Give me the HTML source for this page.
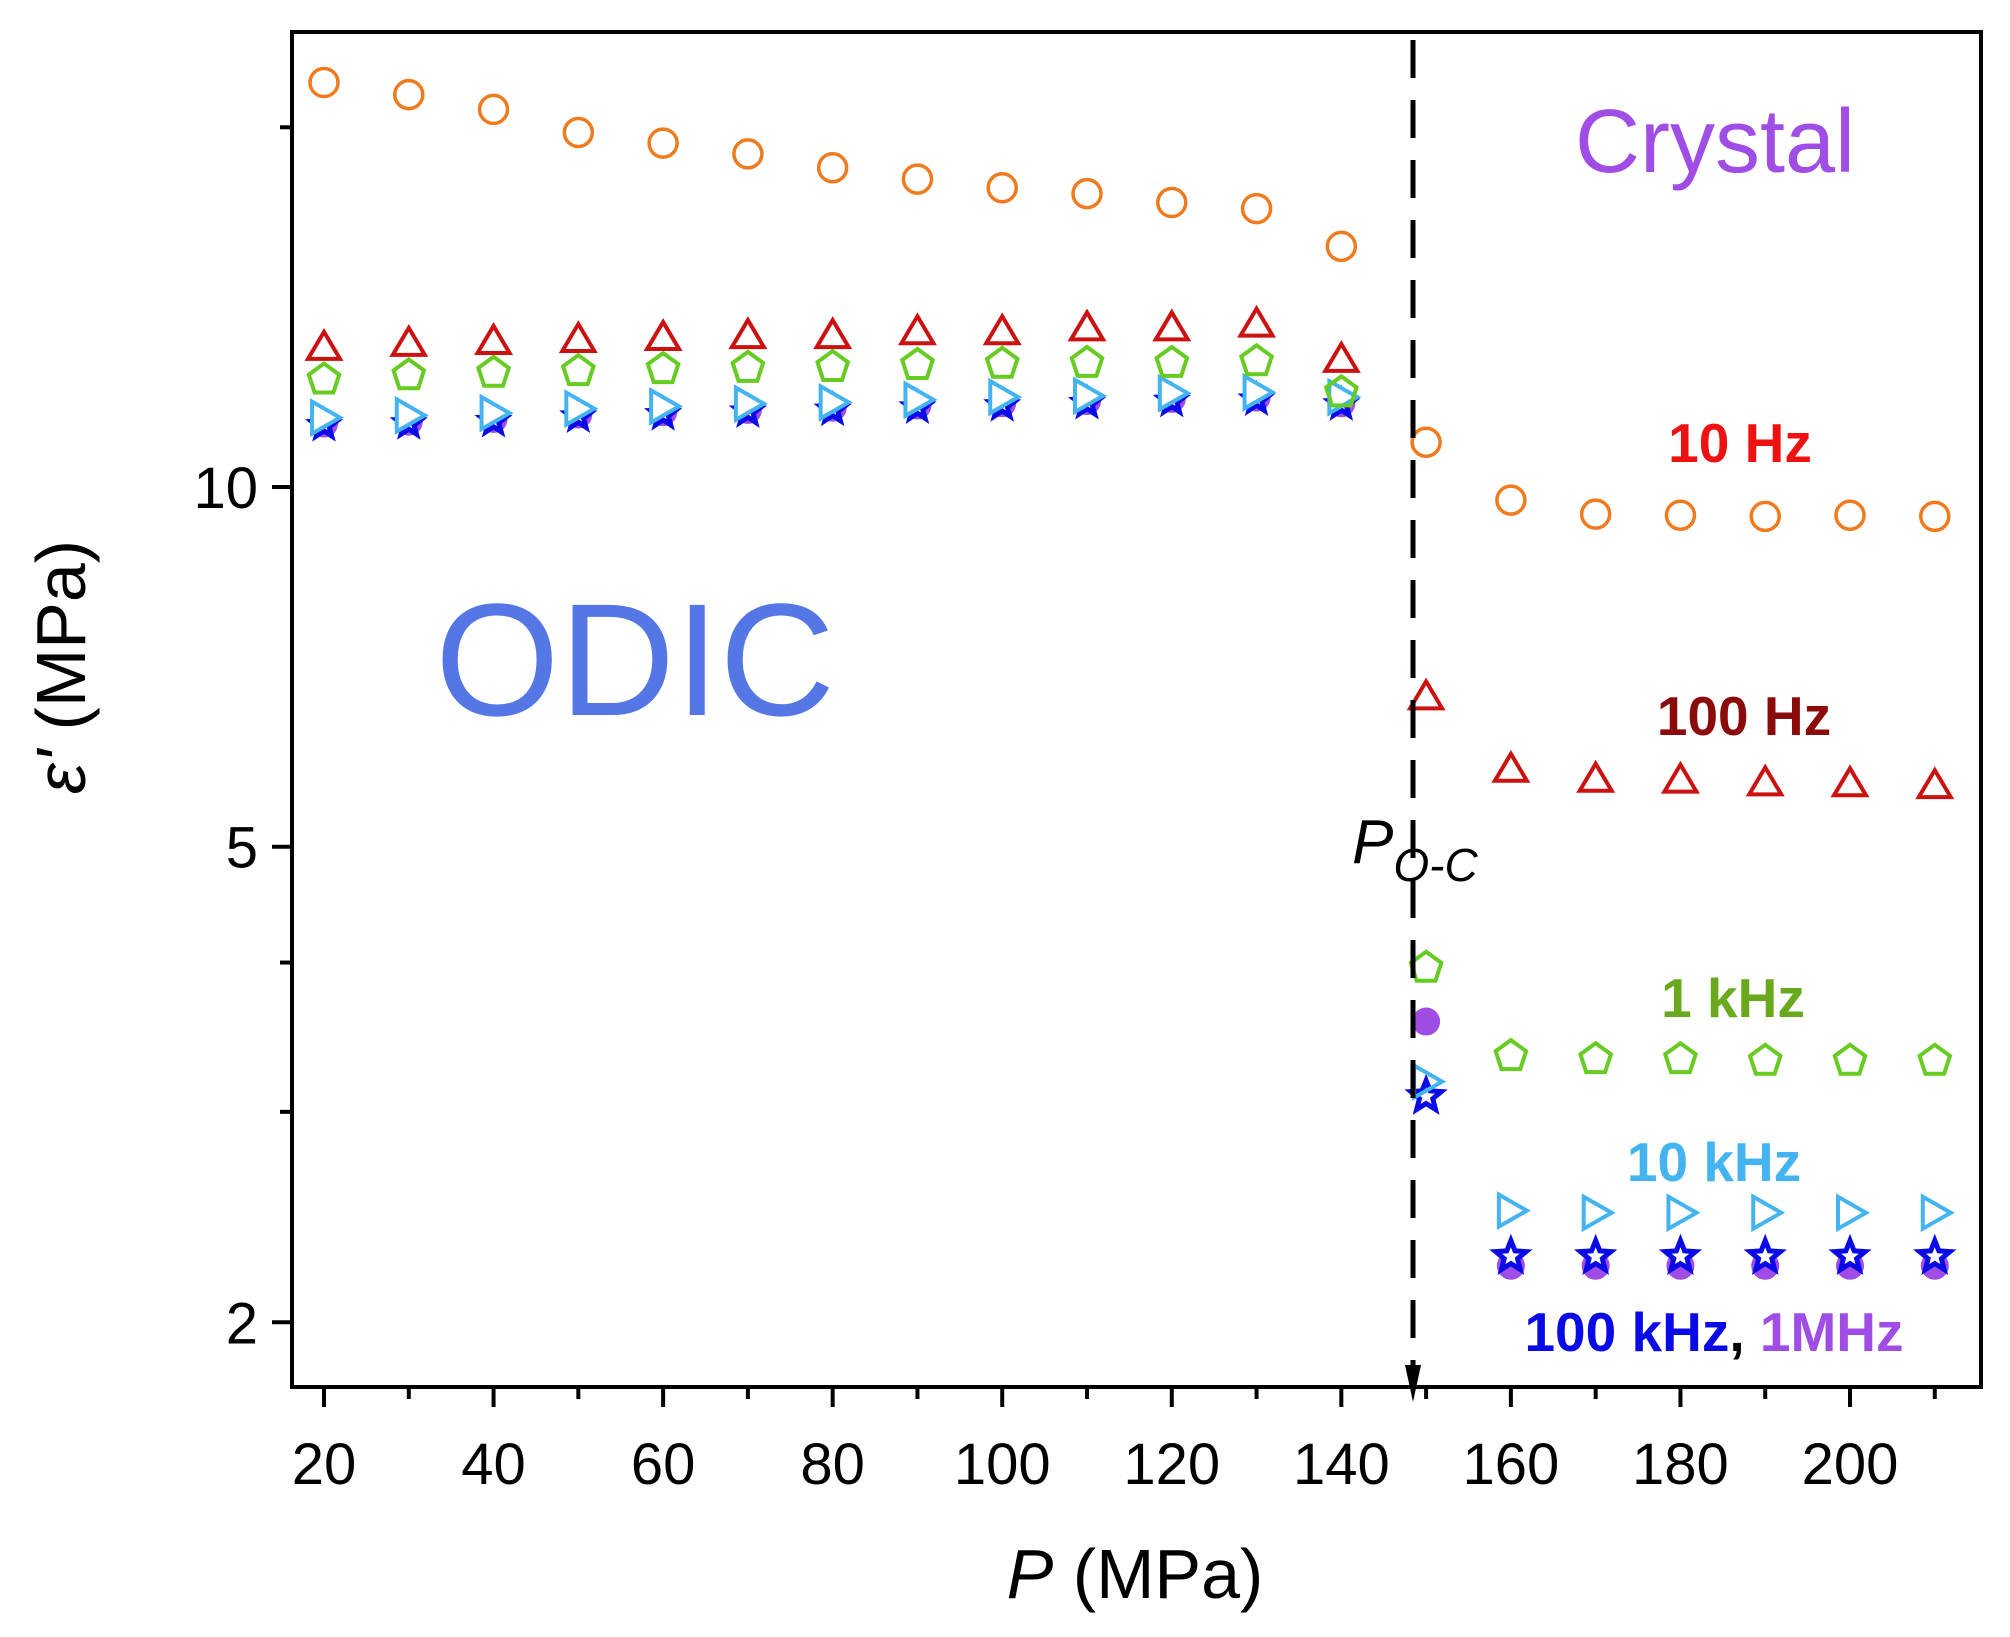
<!DOCTYPE html>
<html><head><meta charset="utf-8"><style>
html,body{margin:0;padding:0;background:#fff;}
svg{display:block;font-family:"Liberation Sans",sans-serif;}
</style></head><body>
<svg id="chart" width="2010" height="1637" viewBox="0 0 2010 1637" xmlns="http://www.w3.org/2000/svg">
<rect x="292" y="32" width="1689" height="1355" fill="#fff" stroke="#000" stroke-width="4"/>
<g id="ticks"></g>
<g id="marks"></g>
<line x1="1413" y1="40" x2="1413" y2="1372" stroke="#000" stroke-width="5" stroke-dasharray="38,22"/>
<polygon points="1405,1365 1421,1365 1413,1402" fill="#000"/>
<text x="1352" y="863" font-size="62" font-style="italic">P<tspan font-size="46" dy="18">O-C</tspan></text>
<text x="1715" y="172" font-size="90" fill="#a04de6" text-anchor="middle">Crystal</text>
<text x="635" y="715" font-size="160" fill="#5577e6" text-anchor="middle">ODIC</text>
<text x="1740" y="462" font-size="55" font-weight="bold" fill="#ee1111" text-anchor="middle">10 Hz</text>
<text x="1744" y="735" font-size="55" font-weight="bold" fill="#8b0a0a" text-anchor="middle">100 Hz</text>
<text x="1733" y="1017" font-size="55" font-weight="bold" fill="#6aa81e" text-anchor="middle">1 kHz</text>
<text x="1714" y="1181" font-size="55" font-weight="bold" fill="#44b4f0" text-anchor="middle">10 kHz</text>
<text x="1714" y="1351" font-size="55" font-weight="bold" text-anchor="middle"><tspan fill="#0a0ae6">100 kHz</tspan><tspan fill="#000">, </tspan><tspan fill="#a04de6">1MHz</tspan></text>
<text x="1135" y="1598" font-size="70" text-anchor="middle"><tspan font-style="italic">P</tspan>  (MPa)</text>
<text transform="translate(85,667) rotate(-90)" font-size="70" text-anchor="middle"><tspan font-style="italic">ε'</tspan>  (MPa)</text>
</svg>
<script>
const pressures = [20,30,40,50,60,70,80,90,100,110,120,130,140,150,160,170,180,190,200,210];
const eps10Hz = [21.8,21.3,20.7,19.8,19.4,19.0,18.5,18.1,17.8,17.6,17.3,17.1,15.9,10.9,9.75,9.49,9.47,9.45,9.47,9.45];
const eps100Hz = [13.1,13.2,13.25,13.3,13.35,13.4,13.4,13.5,13.5,13.6,13.6,13.7,12.8,6.68,5.81,5.70,5.69,5.66,5.65,5.63];
const eps1kHz = [12.3,12.4,12.46,12.5,12.55,12.58,12.6,12.65,12.68,12.7,12.7,12.74,12.0,3.96,3.34,3.32,3.32,3.31,3.31,3.31];
const eps10kHz = [11.43,11.48,11.53,11.63,11.68,11.74,11.77,11.83,11.89,11.92,11.98,12.0,11.89,3.18,2.48,2.47,2.47,2.47,2.47,2.47];
const eps100kHz = [11.26,11.3,11.35,11.45,11.5,11.56,11.6,11.65,11.7,11.75,11.8,11.83,11.72,3.09,2.27,2.27,2.27,2.27,2.27,2.27];
const eps1MHz = [11.3,11.34,11.4,11.5,11.55,11.6,11.65,11.7,11.75,11.8,11.85,11.88,11.75,3.57,2.23,2.23,2.23,2.23,2.23,2.23];
const xTicks = [20,40,60,80,100,120,140,160,180,200];
const xMinorTicks = [30,50,70,90,110,130,150,170,190,210];
const yTicks = [2,5,10];
const yMinorTicks = [3,4,20];

const NS='http://www.w3.org/2000/svg';
function xs(p){return 324+(p-20)*(1850-324)/180;}
function ys(v){return 487-Math.log10(v/10)*1195;}
function mk(tag,attrs,parent){const e=document.createElementNS(NS,tag);for(const k in attrs)e.setAttribute(k,attrs[k]);parent.appendChild(e);return e;}
const T=document.getElementById('ticks'), M=document.getElementById('marks');
xTicks.forEach(t=>{
  const l=mk('line',{x1:xs(t),x2:xs(t),y1:1387,y2:1407,stroke:'#000','stroke-width':4},T);
  
  
  const tx=mk('text',{x:xs(t),y:1484,'font-size':58,'text-anchor':'middle'},T);tx.textContent=t;
  
  
});
xMinorTicks.forEach(t=>{
  const l=mk('line',{x1:xs(t),x2:xs(t),y1:1387,y2:1399,stroke:'#000','stroke-width':4},T);
  
  
});
yTicks.forEach(t=>{
  const l=mk('line',{x1:272,x2:292,y1:ys(t),y2:ys(t),stroke:'#000','stroke-width':4},T);
  
  
  const tx=mk('text',{x:258,y:ys(t)+21,'font-size':58,'text-anchor':'end'},T);tx.textContent=t;
  
  
});
yMinorTicks.forEach(t=>{
  const l=mk('line',{x1:280,x2:292,y1:ys(t),y2:ys(t),stroke:'#000','stroke-width':4},T);
  
  
});
function poly(cx,cy,pts){return pts.map(p=>(cx+p[0])+','+(cy+p[1])).join(' ');}
function star(cx,cy,R,r){const a=[];for(let i=0;i<10;i++){const rr=i%2?r:R;const ang=-Math.PI/2+i*Math.PI/5;a.push([rr*Math.cos(ang),rr*Math.sin(ang)]);}return poly(cx,cy,a);}
function pent(cx,cy,R){const a=[];for(let i=0;i<5;i++){const ang=-Math.PI/2+i*2*Math.PI/5;a.push([R*Math.cos(ang),R*Math.sin(ang)]);}return poly(cx,cy,a);}
pressures.forEach((p,i)=>{
  const x=xs(p);
  let e=mk('circle',{cx:x,cy:ys(eps1MHz[i]),r:14,fill:'#a04de6'},M);
  
  
  e=mk('polygon',{points:star(x,ys(eps100kHz[i]),p<150?13:16,p<150?5.5:7),fill:'#fff',stroke:'#0a0ae6','stroke-width':5},M);
  
  
  e=mk('polygon',{points:poly(x,ys(eps10kHz[i]),[[-12,-16],[16,0],[-12,16]]),fill:p<150?'#fff':'none',stroke:'#44b4f0','stroke-width':4},M);
  
  
  e=mk('polygon',{points:pent(x,ys(eps1kHz[i]),16),fill:'none',stroke:'#66cc22','stroke-width':4},M);
  
  
  e=mk('polygon',{points:poly(x,ys(eps100Hz[i]),[[-16,12],[16,12],[0,-15]]),fill:'none',stroke:'#cc1111','stroke-width':4},M);
  
  
  e=mk('circle',{cx:x,cy:ys(eps10Hz[i]),r:14,fill:'none',stroke:'#f07a1e','stroke-width':3.5},M);
  
  
});
</script>
</body></html>
